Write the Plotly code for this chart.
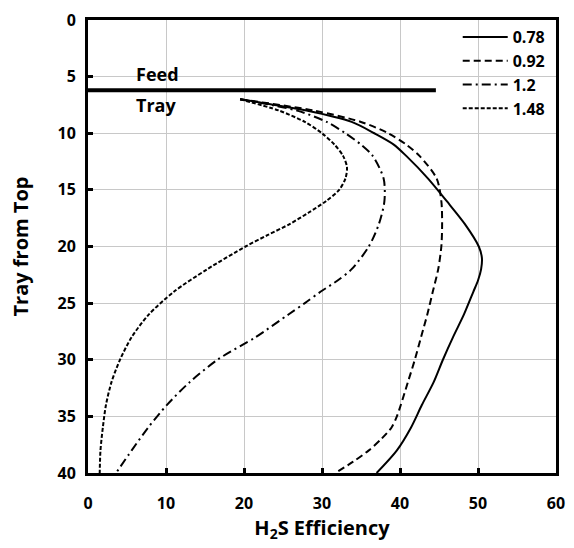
import plotly.graph_objects as go

# ---- data ----
trays_078 = [7, 8, 9, 10, 11, 12, 14, 16, 18, 20, 21, 22, 23, 24, 26, 28, 30, 32, 34, 36, 38, 40]
eff_078 = [19.5, 28.0, 33.8, 36.7, 39.2, 40.8, 43.6, 46.0, 48.3, 50.1, 50.5, 50.4, 50.0, 49.4, 48.2, 46.8, 45.5, 44.3, 42.8, 41.4, 39.6, 37.0]

trays_092 = [7, 8, 9, 10, 11, 12, 14, 16, 18, 20, 22, 24, 26, 28, 30, 32, 34, 35, 36, 37, 38, 39, 40]
eff_092 = [19.5, 29.0, 35.0, 38.5, 40.8, 42.5, 44.7, 45.3, 45.4, 45.3, 44.9, 44.2, 43.5, 42.7, 41.9, 41.0, 40.1, 39.6, 38.9, 37.6, 36.0, 34.0, 31.7]

trays_120 = [7, 8, 9, 10, 11, 12, 14, 16, 18, 20, 22, 23, 24, 25, 26, 28, 30, 32, 34, 36, 38, 40]
eff_120 = [19.5, 26.8, 30.6, 33.0, 35.0, 36.5, 37.9, 38.0, 37.3, 36.0, 33.8, 32.0, 29.8, 27.8, 25.7, 21.5, 16.6, 13.0, 10.1, 7.7, 5.6, 3.6]

trays_148 = [7, 8, 9, 10, 11, 12, 13, 14, 15, 16, 17, 18, 19, 20, 22, 24, 26, 28, 30, 32, 34, 36, 38, 40]
eff_148 = [19.5, 24.5, 27.8, 30.0, 31.6, 32.7, 33.2, 33.0, 32.2, 30.5, 28.3, 25.9, 23.0, 20.2, 15.3, 11.0, 7.8, 5.6, 4.1, 3.0, 2.3, 1.9, 1.6, 1.5]

series_names = ["0.78", "0.92", "1.2", "1.48"]
feed_x = [0, 44.6]
feed_y = [6.2, 6.2]

x_ticks = [0, 10, 20, 30, 40, 50, 60]
y_ticks = [0, 5, 10, 15, 20, 25, 30, 35, 40]

# ---- figure ----
FONT = "Open Sans"
fig = go.Figure()

styles = [
    dict(dash="solid"),
    dict(dash="7px,4px"),
    dict(dash="9px,4px,2px,4px"),
    dict(dash="4px,2px"),
]
all_data = [(trays_078, eff_078), (trays_092, eff_092), (trays_120, eff_120), (trays_148, eff_148)]
for name, (ty, ex), st in zip(series_names, all_data, styles):
    fig.add_trace(go.Scatter(
        x=ex, y=ty, mode="lines", name=name,
        line=dict(color="black", width=2, dash=st["dash"], shape="spline", smoothing=0.8),
    ))

fig.add_trace(go.Scatter(
    x=feed_x, y=feed_y, mode="lines", showlegend=False,
    line=dict(color="black", width=4), hoverinfo="skip",
))

fig.add_annotation(x=5.9, y=4.8, text="Feed", showarrow=False, xanchor="left", yanchor="middle",
                   font=dict(family=FONT, size=18, color="black", weight="bold"))
fig.add_annotation(x=5.9, y=7.5, text="Tray", showarrow=False, xanchor="left", yanchor="middle",
                   font=dict(family=FONT, size=18, color="black", weight="bold"))

axis_common = dict(
    showline=True, linecolor="black", linewidth=3, mirror=True,
    ticks="inside", ticklen=5, tickwidth=3, tickcolor="black",
    showgrid=True, gridcolor="#c8c8c8", gridwidth=1,
    zeroline=False,
    tickfont=dict(family=FONT, size=16, color="black", weight="bold"),
)

fig.update_layout(
    width=574, height=548,
    margin=dict(l=88, r=9, t=14, b=75),
    paper_bgcolor="white", plot_bgcolor="white",
    showlegend=True,
    legend=dict(
        x=0.79, y=1.0, xanchor="left", yanchor="top",
        bgcolor="rgba(0,0,0,0)", borderwidth=0,
        font=dict(family=FONT, size=16, color="black", weight="bold"),
        itemwidth=45,
    ),
    xaxis=dict(
        range=[0, 60], tickvals=x_ticks, ticktext=[str(v) for v in x_ticks],
        ticklabelstandoff=14,
        title=dict(text="H<sub>2</sub>S Efficiency", standoff=6,
                   font=dict(family=FONT, size=20, color="black", weight="bold")),
        **axis_common,
    ),
    yaxis=dict(
        range=[40, 0], tickvals=y_ticks, ticktext=[str(v) for v in y_ticks],
        ticklabelstandoff=6,
        title=dict(text="Tray from Top", standoff=24,
                   font=dict(family=FONT, size=20, color="black", weight="bold")),
        **axis_common,
    ),
)

fig.write_html("out.html")
